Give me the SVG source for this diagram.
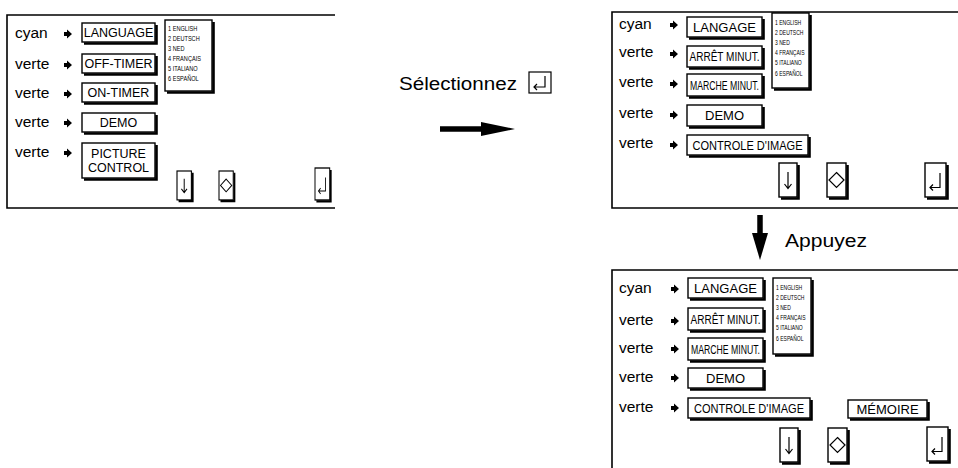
<svg xmlns="http://www.w3.org/2000/svg" xmlns:xlink="http://www.w3.org/1999/xlink" width="958" height="468" viewBox="0 0 958 468">
<style>
.pl{fill:none;stroke:#000;stroke-width:1.6}
.lb{font-family:"Liberation Sans",Arial,sans-serif;font-size:15.5px;fill:#000}
.bt{font-family:"Liberation Sans",Arial,sans-serif;font-size:12.5px;fill:#000;text-anchor:middle}
.bx{fill:#fff;stroke:#000;stroke-width:1.4}
.sh{fill:none;stroke:#000;stroke-width:2.6}
.ls{font-family:"Liberation Sans",Arial,sans-serif;font-size:7px;fill:#000}
.ic{fill:none;stroke:#000;stroke-width:1.2}
.big{font-family:"Liberation Sans",Arial,sans-serif;font-size:18px;fill:#000}
</style>
<defs>
<polygon id="bul" points="0,-2 3,-2 3,-4.5 8,0 3,4.5 3,2 0,2" fill="#000"/>
<g id="bDown">
<path class="sh" d="M19.5,2 V35.5 H2"/>
<rect class="bx" x="0" y="0" width="18" height="34"/>
<path class="ic" d="M9,9 V25 M5.5,21 L9,25.5 L12.5,21"/>
</g>
<g id="bDia">
<path class="sh" d="M20.5,2 V35.5 H2"/>
<rect class="bx" x="0" y="0" width="19" height="34"/>
<polygon class="ic" points="9.5,9.5 17,17 9.5,24.5 2,17"/>
</g>
<g id="bRet">
<path class="sh" d="M22.5,2 V35.5 H2"/>
<rect class="bx" x="0" y="0" width="21" height="34"/>
<path class="ic" d="M15,10 V24.5 H5 M8,21.5 L5,24.5 L8,27.5"/>
</g>
</defs>

<!-- Panel 1 -->
<g id="panel1">
<path class="pl" d="M335,15 H7 V208 H335"/>
<g id="p1-row1"><text class="lb" x="15" y="38">cyan</text><use xlink:href="#bul" x="64" y="34"/>
<path class="sh" d="M156.5,25 V43.5 H84"/><rect class="bx" x="82" y="23" width="73" height="19"/><text class="bt" x="118.5" y="37">LANGUAGE</text></g>
<g id="p1-row2"><text class="lb" x="15" y="69">verte</text><use xlink:href="#bul" x="64" y="65"/>
<path class="sh" d="M156.5,56 V74.5 H84"/><rect class="bx" x="82" y="54" width="73" height="19"/><text class="bt" x="118.5" y="68">OFF-TIMER</text></g>
<g id="p1-row3"><text class="lb" x="15" y="98">verte</text><use xlink:href="#bul" x="64" y="94"/>
<path class="sh" d="M156.5,85 V103.5 H84"/><rect class="bx" x="82" y="83" width="73" height="19"/><text class="bt" x="118.5" y="97">ON-TIMER</text></g>
<g id="p1-row4"><text class="lb" x="15" y="127">verte</text><use xlink:href="#bul" x="64" y="123"/>
<path class="sh" d="M156.5,115 V133.5 H84"/><rect class="bx" x="82" y="113" width="73" height="19"/><text class="bt" x="118.5" y="127">DEMO</text></g>
<g id="p1-row5"><text class="lb" x="15" y="157">verte</text><use xlink:href="#bul" x="64" y="153"/>
<path class="sh" d="M156.5,145 V179.5 H84"/><rect class="bx" x="82" y="143" width="73" height="35"/><text class="bt" x="118.5" y="158">PICTURE</text><text class="bt" x="118.5" y="172">CONTROL</text></g>
<g id="p1-list">
<path class="sh" d="M213.5,22 V92.5 H167"/><rect class="bx" x="165" y="20" width="47" height="71"/>
<g transform="translate(168,0) scale(0.8,1)">
<text class="ls" x="0" y="31">1 ENGLISH</text><text class="ls" x="0" y="41">2 DEUTSCH</text><text class="ls" x="0" y="51">3 NED</text><text class="ls" x="0" y="61">4 FRANÇAIS</text><text class="ls" x="0" y="71">5 ITALIANO</text><text class="ls" x="0" y="81">6 ESPAÑOL</text>
</g></g>
<g id="p1-btn-down"><use xlink:href="#bDown" transform="translate(177,171) scale(0.8,0.85)"/></g>
<g id="p1-btn-dia"><use xlink:href="#bDia" transform="translate(219,171) scale(0.75,0.85)"/></g>
<g id="p1-btn-ret"><use xlink:href="#bRet" transform="translate(315,168) scale(0.7,0.94)"/></g>
</g>

<!-- Middle -->
<g id="select-label">
<text class="big" x="399" y="90" textLength="118" lengthAdjust="spacingAndGlyphs">Sélectionnez</text>
<rect x="529" y="72" width="22" height="21" fill="#fff" stroke="#000" stroke-width="1.2"/>
<path class="ic" d="M545,76 V87 H534 M537,84 L534,87 L537,90"/>
</g>

<!-- Panel 2 -->
<g id="panel2">
<path class="pl" d="M958,12 H612 V208 H958"/>
<g id="p2-row1"><text class="lb" x="619" y="29">cyan</text><use xlink:href="#bul" x="670" y="25"/>
<path class="sh" d="M763.5,19 V38.5 H689"/><rect class="bx" x="687" y="17" width="75" height="20"/><text class="bt" x="724.5" y="32" style="font-size:13px">LANGAGE</text></g>
<g id="p2-row2"><text class="lb" x="619" y="57">verte</text><use xlink:href="#bul" x="670" y="54"/>
<path class="sh" d="M763.5,48 V68.5 H689"/><rect class="bx" x="687" y="46" width="75" height="21"/><text class="bt" x="724.5" y="61" textLength="70" lengthAdjust="spacingAndGlyphs">ARRÊT MINUT.</text></g>
<g id="p2-row3"><text class="lb" x="619" y="87">verte</text><use xlink:href="#bul" x="670" y="84"/>
<path class="sh" d="M763.5,76 V97.5 H689"/><rect class="bx" x="687" y="74" width="75" height="22"/><text class="bt" x="724.5" y="90" textLength="69" lengthAdjust="spacingAndGlyphs">MARCHE MINUT.</text></g>
<g id="p2-row4"><text class="lb" x="619" y="118">verte</text><use xlink:href="#bul" x="670" y="115"/>
<path class="sh" d="M763.5,107 V127.5 H689"/><rect class="bx" x="687" y="105" width="75" height="21"/><text class="bt" x="724.5" y="120" style="font-size:13px">DEMO</text></g>
<g id="p2-row5"><text class="lb" x="619" y="148">verte</text><use xlink:href="#bul" x="670" y="145"/>
<path class="sh" d="M809.5,137 V156.5 H689"/><rect class="bx" x="687" y="135" width="121" height="20"/><text class="bt" x="747.5" y="150" textLength="110" lengthAdjust="spacingAndGlyphs">CONTROLE D'IMAGE</text></g>
<g id="p2-list">
<path class="sh" d="M810.5,15 V89.5 H774"/><rect class="bx" x="772" y="13" width="37" height="75"/>
<g transform="translate(775,0) scale(0.72,1)">
<text class="ls" x="0" y="25">1 ENGLISH</text><text class="ls" x="0" y="35">2 DEUTSCH</text><text class="ls" x="0" y="45">3 NED</text><text class="ls" x="0" y="55">4 FRANÇAIS</text><text class="ls" x="0" y="65">5 ITALIANO</text><text class="ls" x="0" y="76">6 ESPAÑOL</text>
</g></g>
<g id="p2-btn-down"><use xlink:href="#bDown" x="779" y="163"/></g>
<g id="p2-btn-dia"><use xlink:href="#bDia" x="827" y="163"/></g>
<g id="p2-btn-ret"><use xlink:href="#bRet" x="925" y="163"/></g>
</g>

<g id="press-label">
<text class="big" x="785" y="247" textLength="82" lengthAdjust="spacingAndGlyphs">Appuyez</text>
</g>

<!-- Panel 3 -->
<g id="panel3">
<path class="pl" d="M958,270 H612 V468"/>
<g id="p3-row1"><text class="lb" x="619" y="293">cyan</text><use xlink:href="#bul" x="671" y="289"/>
<path class="sh" d="M764.5,280 V299.5 H690"/><rect class="bx" x="688" y="278" width="75" height="20"/><text class="bt" x="725.5" y="293" style="font-size:13px">LANGAGE</text></g>
<g id="p3-row2"><text class="lb" x="619" y="325">verte</text><use xlink:href="#bul" x="671" y="321"/>
<path class="sh" d="M764.5,310 V331.5 H690"/><rect class="bx" x="688" y="308" width="75" height="22"/><text class="bt" x="725.5" y="324" textLength="70" lengthAdjust="spacingAndGlyphs">ARRÊT MINUT.</text></g>
<g id="p3-row3"><text class="lb" x="619" y="353">verte</text><use xlink:href="#bul" x="671" y="349"/>
<path class="sh" d="M764.5,340 V361.5 H690"/><rect class="bx" x="688" y="338" width="75" height="22"/><text class="bt" x="725.5" y="354" textLength="69" lengthAdjust="spacingAndGlyphs">MARCHE MINUT.</text></g>
<g id="p3-row4"><text class="lb" x="619" y="382">verte</text><use xlink:href="#bul" x="671" y="378"/>
<path class="sh" d="M764.5,370 V389.5 H690"/><rect class="bx" x="688" y="368" width="75" height="20"/><text class="bt" x="725.5" y="383" style="font-size:13px">DEMO</text></g>
<g id="p3-row5"><text class="lb" x="619" y="412">verte</text><use xlink:href="#bul" x="671" y="408"/>
<path class="sh" d="M811.5,400 V419.5 H690"/><rect class="bx" x="688" y="398" width="122" height="20"/><text class="bt" x="749" y="413" textLength="110" lengthAdjust="spacingAndGlyphs">CONTROLE D'IMAGE</text></g>
<g id="p3-list">
<path class="sh" d="M812.5,280 V355.5 H775"/><rect class="bx" x="773" y="278" width="38" height="76"/>
<g transform="translate(776,0) scale(0.72,1)">
<text class="ls" x="0" y="290">1 ENGLISH</text><text class="ls" x="0" y="300">2 DEUTSCH</text><text class="ls" x="0" y="310">3 NED</text><text class="ls" x="0" y="320">4 FRANÇAIS</text><text class="ls" x="0" y="330">5 ITALIANO</text><text class="ls" x="0" y="341">6 ESPAÑOL</text>
</g></g>
<g id="p3-memoire">
<path class="sh" d="M928.5,402 V419.5 H850"/><rect class="bx" x="848" y="400" width="79" height="18"/><text class="bt" x="887.5" y="414" style="font-size:13px">MÉMOIRE</text></g>
<g id="p3-btn-down"><use xlink:href="#bDown" x="780" y="428"/></g>
<g id="p3-btn-dia"><use xlink:href="#bDia" x="828" y="428"/></g>
<g id="p3-btn-ret"><use xlink:href="#bRet" x="927" y="427"/></g>
</g>

<!-- Connectors -->
<g id="connectors">
<path d="M440,129 H483" stroke="#000" stroke-width="5.5" fill="none"/>
<polygon points="481,122 515,129 481,136" fill="#000"/>
<path d="M760,215 V236" stroke="#000" stroke-width="5.5" fill="none"/>
<polygon points="752,233 768,233 760,260" fill="#000"/>
</g>
</svg>
